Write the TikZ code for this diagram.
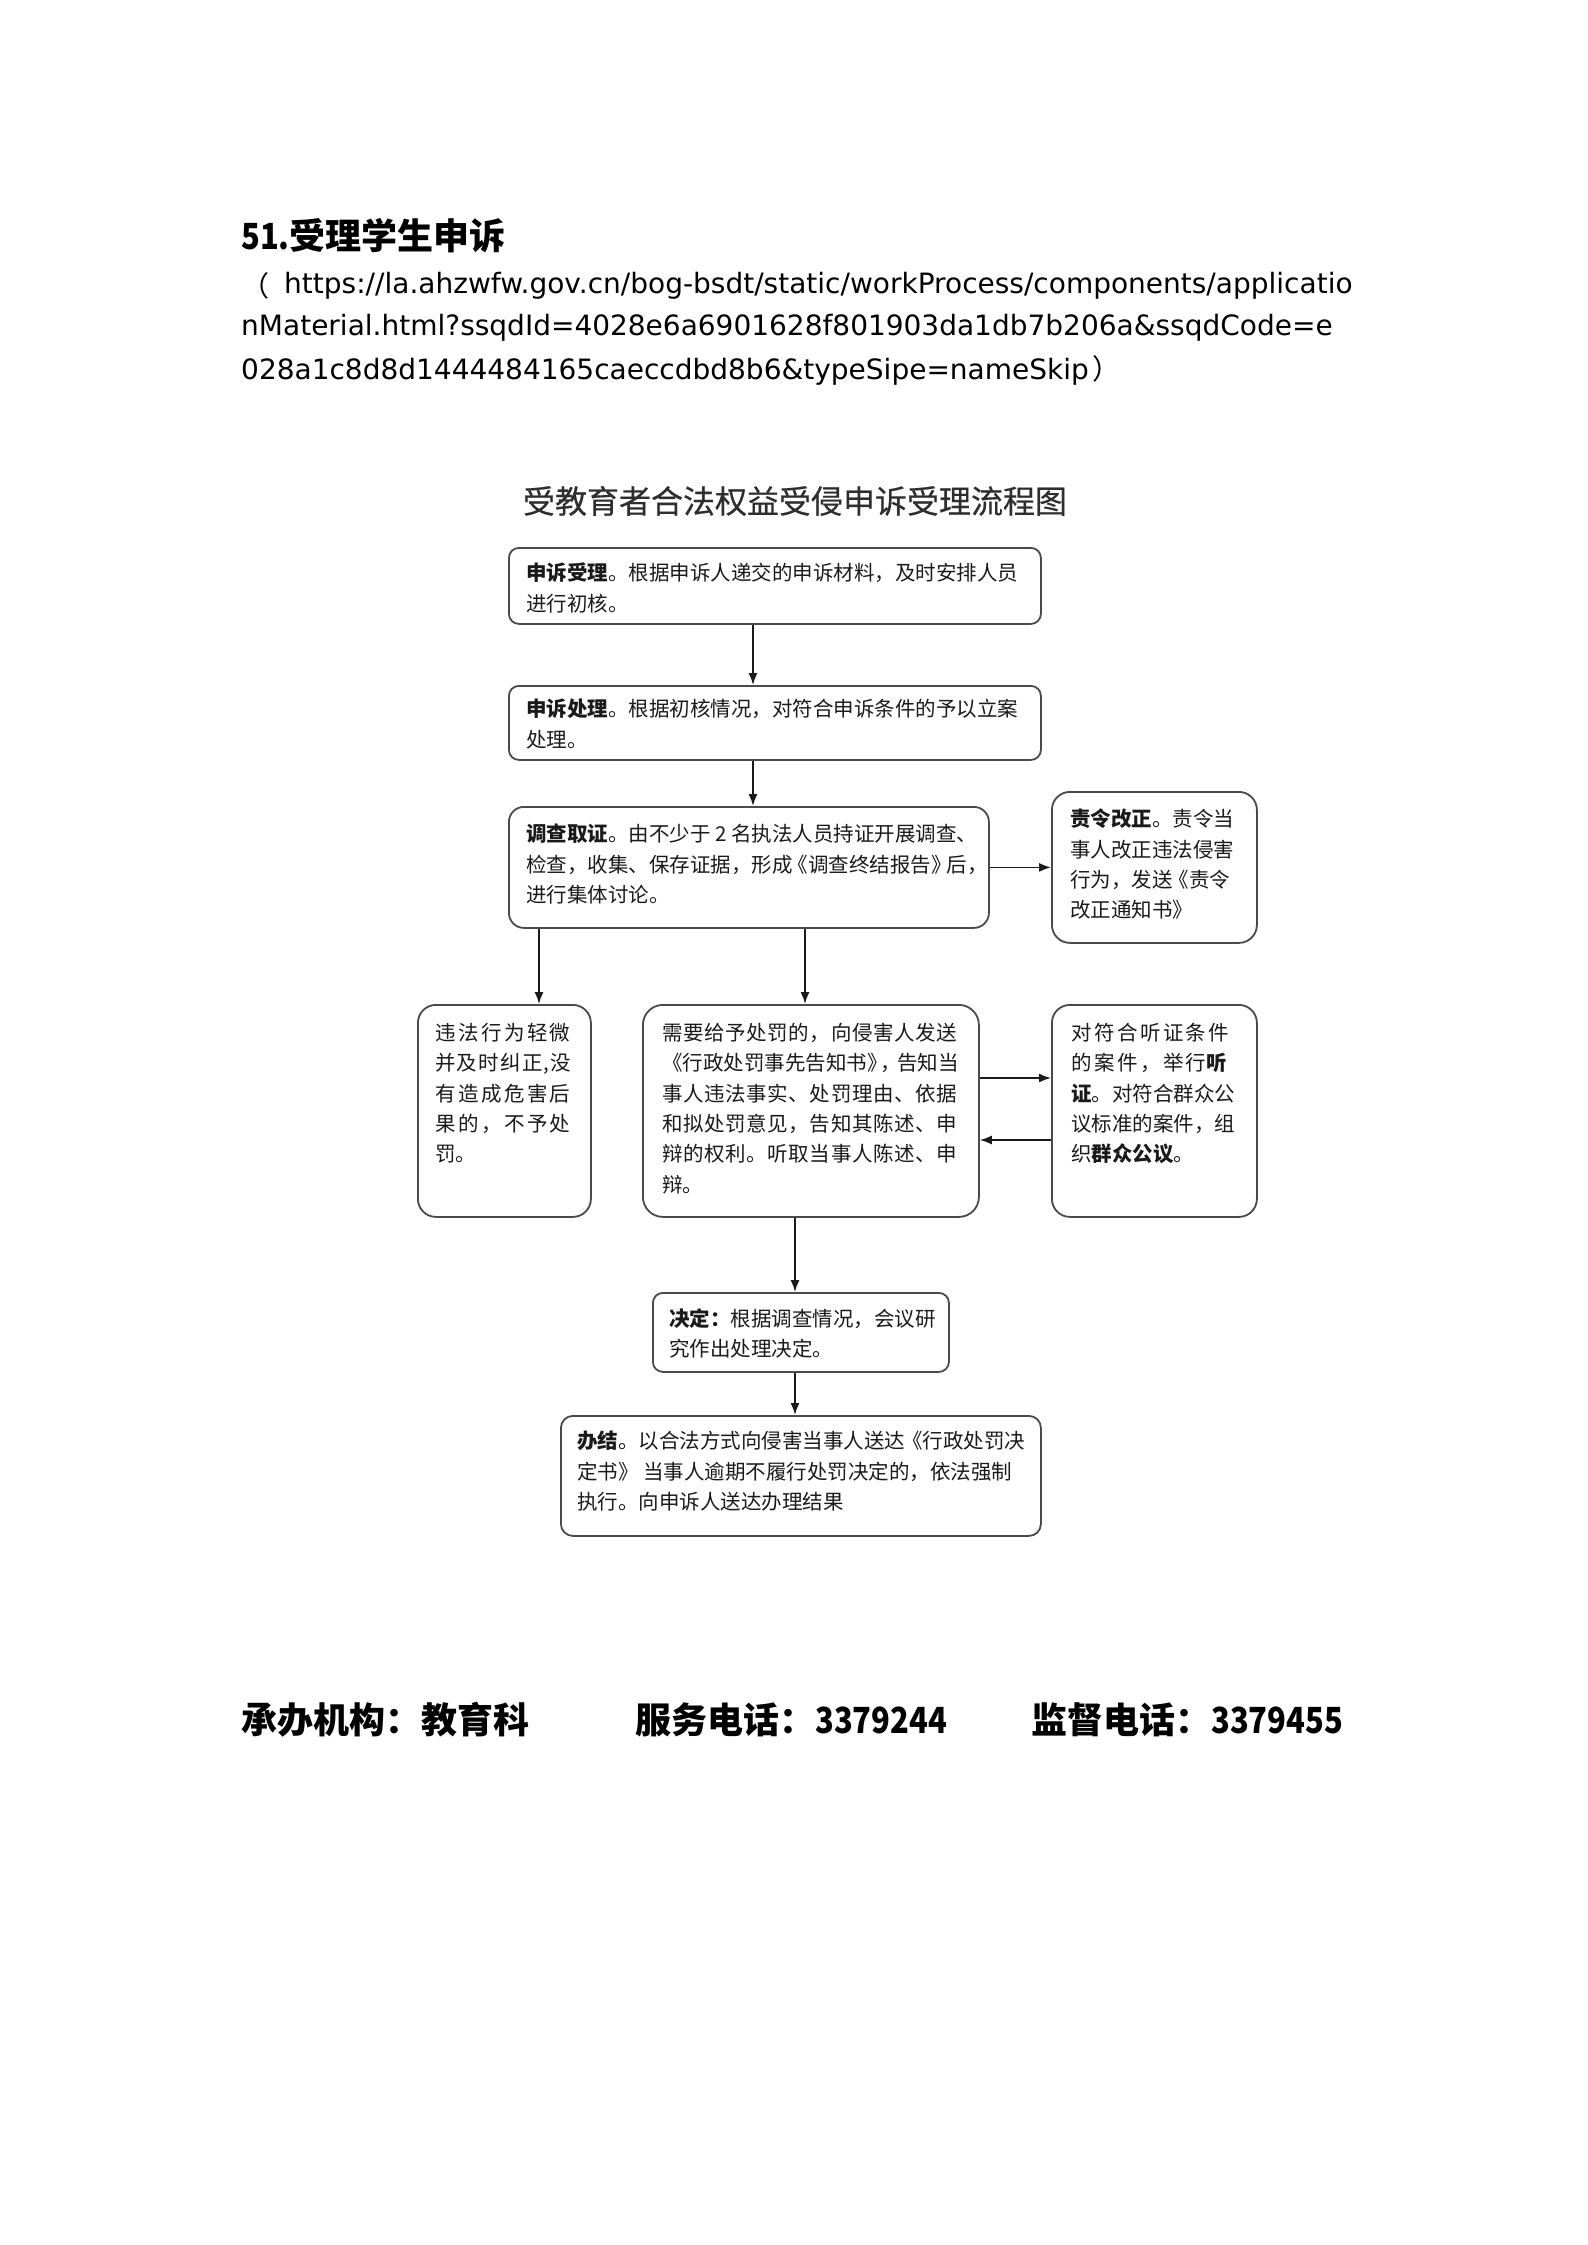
\documentclass[tikz,border=0pt]{standalone}
\usepackage{fontspec}
\setmainfont{Noto Sans CJK SC}
\newfontfamily\cjksp[LetterSpace=12]{Noto Sans CJK SC}
\newfontfamily\cjksix[LetterSpace=6]{Noto Sans CJK SC}
\newfontfamily\cjkmid[LetterSpace=3]{Noto Sans CJK SC}
\newfontfamily\ttlfont[FakeBold=0.5]{Noto Sans CJK SC}
\newfontfamily\urlfont{DejaVu Sans}
\usetikzlibrary{arrows.meta}
\definecolor{boxgray}{HTML}{4A4A4A}
\definecolor{txt}{HTML}{1A1A1A}
\definecolor{ttlgray}{HTML}{2E2E2E}
\newcommand{\narrowdig}[1]{\scalebox{0.86}[1]{#1}}
\begin{document}
\begin{tikzpicture}[x=1pt,y=-1pt,
  box/.style={draw=boxgray, line width=1.8pt, rounded corners=#1, anchor=north west, inner sep=0pt},
  btxt/.style={anchor=north west, inner sep=0pt, align=left, text=txt, font=\fontsize{20.5}{30.3}\selectfont},
  arr/.style={draw=txt, line width=1.6pt, -{Latex[length=12pt,width=9pt]}},
  foot/.style={anchor=west, inner sep=0pt, font=\fontsize{36}{40}\selectfont\bfseries}
]
\fill[white] (0,0) rectangle (1587,2245);
\path[use as bounding box] (0,0) rectangle (1587,2245);

% header
\node[foot] (hdr) at (241,236) {\narrowdig{51.}受理学生申诉};
\node[anchor=west, inner sep=0pt, font=\fontsize{28}{32}\selectfont] (u0) at (241,286) {（};
\node[anchor=west, inner sep=0pt, font=\urlfont\fontsize{28}{32}\selectfont] (u1) at (284,286) {https://la.ahzwfw.gov.cn/bog-bsdt/static/workProcess/components/applicatio};
\node[anchor=west, inner sep=0pt, font=\urlfont\fontsize{28}{32}\selectfont] (u2) at (241,328) {nMaterial.html?ssqdId=4028e6a6901628f801903da1db7b206a\&ssqdCode=e};
\node[anchor=west, inner sep=0pt, font=\urlfont\fontsize{28}{32}\selectfont] (u3) at (241,370) {028a1c8d8d1444484165caeccdbd8b6\&typeSipe=nameSkip\kern4pt{\rmfamily ）}};

% chart title
\node[inner sep=0pt, text=ttlgray, font=\ttlfont\fontsize{32}{36}\selectfont] (title) at (795,501) {受教育者合法权益受侵申诉受理流程图};

% boxes
\node[box=10, minimum width=532pt, minimum height=76pt] (b1) at (508,547) {};
\node[box=10, minimum width=532pt, minimum height=74pt] (b2) at (508,685) {};
\node[box=15, minimum width=480pt, minimum height=121pt] (b3) at (508,806) {};
\node[box=18, minimum width=205pt, minimum height=151pt] (bz) at (1051,791) {};
\node[box=18, minimum width=173pt, minimum height=212pt] (bl) at (417,1004) {};
\node[box=20, minimum width=336pt, minimum height=212pt] (bm) at (642,1004) {};
\node[box=18, minimum width=205pt, minimum height=212pt] (br) at (1051,1004) {};
\node[box=10, minimum width=296pt, minimum height=79pt] (bd) at (652,1292) {};
\node[box=12, minimum width=480pt, minimum height=120pt] (bj) at (560,1415) {};

% texts
\node[btxt] (t1) at (526,563) {{\bfseries 申诉受理}。根据申诉人递交的申诉材料，及时安排人员\\进行初核。};
\node[btxt] (t2) at (526,699) {{\bfseries 申诉处理}。根据初核情况，对符合申诉条件的予以立案\\处理。};
\node[btxt] (t3) at (526,824) {{\bfseries 调查取证}。由不少于 2 名执法人员持证开展调查、\\检查，收集、保存证据，形成\kern-5pt《调查终结报告》\kern-5pt后，\\进行集体讨论。};
\node[btxt] (tz) at (1070,809) {{\bfseries 责令改正}。责令当\\事人改正违法侵害\\行为，发送\kern-4pt《责令\\改正通知书》};
\node[btxt] (tl) at (435,1023) {{\cjksp 违法行为轻微}\\{\cjksix 并及时纠正,没}\\{\cjksp 有造成危害后}\\{\cjksp 果的，不予处}\\罚。};
\node[btxt] (tm) at (662,1023) {{\cjkmid 需要给予处罚的，向侵害人发送}\\《行政处罚事先告知书》\kern-7pt，\kern-4pt告知当\\{\cjkmid 事人违法事实、处罚理由、依据}\\{\cjkmid 和拟处罚意见，告知其陈述、申}\\{\cjkmid 辩的权利。听取当事人陈述、申}\\辩。};
\node[btxt] (tr) at (1071,1023) {{\cjksp 对符合听证条件}\\{\cjksp 的案件，举行{\bfseries 听}}\\{\bfseries 证}。对符合群众公\\议标准的案件，组\\织{\bfseries 群众公议}。};
\node[btxt] (td) at (669,1308) {{\bfseries 决定：}根据调查情况，会议研\\究作出处理决定。};
\node[btxt] (tb) at (577,1431) {{\bfseries 办结}。以合法方式向侵害当事人送达\kern-3pt《行政处罚决\\定书》 当事人逾期不履行处罚决定的，依法强制\\执行。向申诉人送达办理结果};

% connector columns
\coordinate (x1) at (753,0);
\coordinate (xl) at (539,0);
\coordinate (xm) at (805,0);
\coordinate (xd) at (795,0);
\coordinate (ya) at (0,1078);
\coordinate (yb) at (0,1140);

\draw[arr] (b1.south -| x1) -- (b2.north -| x1);
\draw[arr] (b2.south -| x1) -- (b3.north -| x1);
\draw[arr] (b3.east) -- (bz.west |- b3.east);
\draw[arr] (b3.south -| xl) -- (bl.north -| xl);
\draw[arr] (b3.south -| xm) -- (bm.north -| xm);
\draw[arr] (bm.east |- ya) -- (br.west |- ya);
\draw[arr] (br.west |- yb) -- (bm.east |- yb);
\draw[arr] (bm.south -| xd) -- (bd.north -| xd);
\draw[arr] (bd.south -| xd) -- (bj.north -| xd);

% footer
\node[foot] (f1) at (241,1720) {承办机构：教育科};
\node[foot] (f2) at (635,1720) {服务电话：\narrowdig{3379244}};
\node[foot] (f3) at (1031,1720) {监督电话：\narrowdig{3379455}};
\end{tikzpicture}
\end{document}
